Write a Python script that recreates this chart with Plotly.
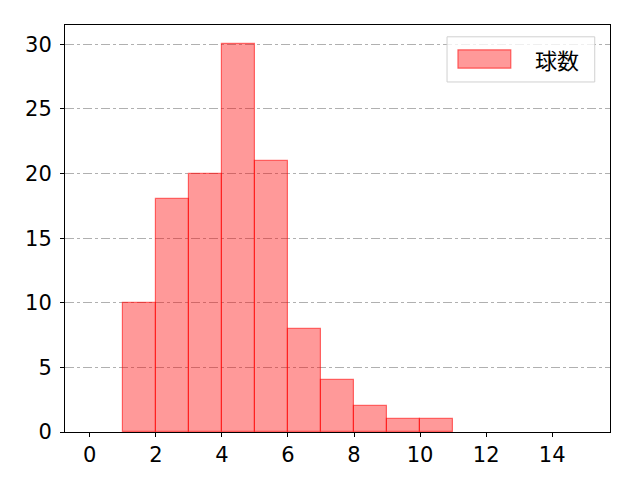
import plotly.graph_objects as go

bin_left = [1, 2, 3, 4, 5, 6, 7, 8, 9, 10]
counts = [10, 18, 20, 30, 21, 8, 4, 2, 1, 1]
series_name = "球数"
x_ticks = [0, 2, 4, 6, 8, 10, 12, 14]
y_ticks = [0, 5, 10, 15, 20, 25, 30]

fill = "rgba(255,0,0,0.4)"
edge = "rgba(255,0,0,0.55)"

fig = go.Figure()
fig.add_trace(go.Bar(
    x=[b + 0.5 for b in bin_left],
    y=counts,
    width=1,
    name=series_name,
    marker=dict(color=fill, line=dict(color=edge, width=1.2)),
    showlegend=False,
))

font = "DejaVu Sans, Noto Sans CJK JP, sans-serif"
cjk = "Noto Sans CJK JP, sans-serif"

# custom legend (matplotlib style)
fig.add_shape(type="rect", xref="paper", yref="paper",
              x0=0.701, x1=0.972, y0=0.860, y1=0.971,
              line=dict(color="#d0d0d0", width=1), fillcolor="rgba(255,255,255,0.8)")
fig.add_shape(type="rect", xref="paper", yref="paper",
              x0=0.721, x1=0.818, y0=0.894, y1=0.939,
              line=dict(color=edge, width=1.2), fillcolor=fill)
fig.add_annotation(xref="paper", yref="paper", x=0.859, y=0.916,
                   xanchor="left", yanchor="middle", showarrow=False,
                   text=series_name, font=dict(family=cjk, size=22, color="black"))

fig.update_layout(
    width=640, height=480,
    margin=dict(l=57, r=38, t=17, b=56),
    plot_bgcolor="white", paper_bgcolor="white",
    font=dict(family=font, size=21, color="black"),
    bargap=0,
    showlegend=False,
    xaxis=dict(
        range=[-0.75, 15.75], tickvals=x_ticks, ticks="outside", ticklen=4,
        tickcolor="black", showgrid=False, zeroline=False,
        showline=True, linecolor="black", linewidth=1, mirror=True,
        tickfont=dict(size=21),
    ),
    yaxis=dict(
        range=[0, 31.5], tickvals=y_ticks, ticks="outside", ticklen=4,
        tickcolor="black", showgrid=True, gridcolor="#b0b0b0", griddash="dashdot",
        gridwidth=1, zeroline=False, ticklabelstandoff=4,
        showline=True, linecolor="black", linewidth=1, mirror=True,
        tickfont=dict(size=21),
    ),
)
fig.write_html("out.html")
